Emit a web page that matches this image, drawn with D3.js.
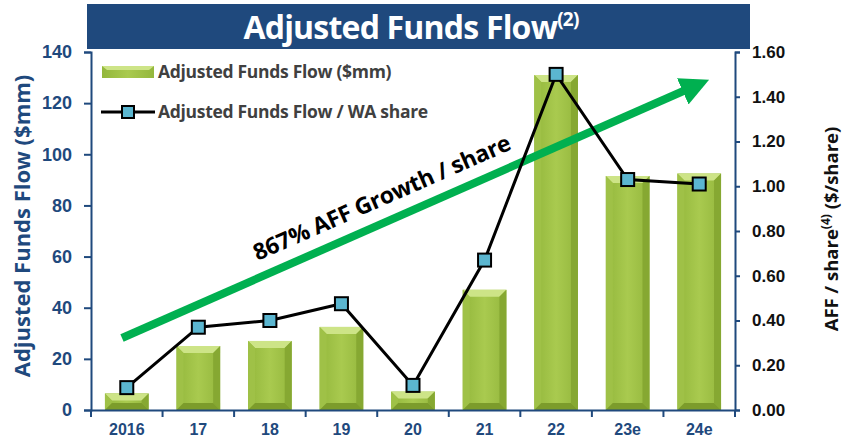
<!DOCTYPE html>
<html lang="en">
<head>
<meta charset="utf-8" />
<title>Adjusted Funds Flow</title>
<script src="https://cdn.jsdelivr.net/npm/d3@7"></script>
<style>
body{ margin:0; background:#fff; }
svg{ font-family:"Open Sans","Noto Sans",sans-serif; font-weight:bold; }
</style>
</head>
<body>
<svg id="chart" width="844" height="441"></svg>
<script>
// chart data
const years = ['2016','17','18','19','20','21','22','23e','24e'];
const aff = [6.5, 25, 27, 32.5, 7.2, 47, 131, 91.5, 92.5];        // $mm
const affPerShare = [0.10, 0.37, 0.40, 0.475, 0.11, 0.67, 1.50, 1.03, 1.01];
const leftTicks = [0, 20, 40, 60, 80, 100, 120, 140];
const rightTicks = [0, 0.2, 0.4, 0.6, 0.8, 1.0, 1.2, 1.4, 1.6];

const navy = '#1F497D';
const svg = d3.select('#chart');
const plotLeft = 91, plotRight = 735, plotTop = 52, plotBottom = 410;

const x = d3.scaleBand().domain(years).range([plotLeft, plotRight]).paddingInner(0.39).paddingOuter(0.195);
const yL = d3.scaleLinear().domain([0, 140]).range([plotBottom, plotTop]);
const yR = d3.scaleLinear().domain([0, 1.6]).range([plotBottom, plotTop]);

const defs = svg.append('defs');
const grad = defs.append('linearGradient').attr('id', 'barGrad');
grad.append('stop').attr('offset', '0%').attr('stop-color', '#93b73c');
grad.append('stop').attr('offset', '50%').attr('stop-color', '#a9ca4f');
grad.append('stop').attr('offset', '100%').attr('stop-color', '#94b73d');

// title banner
svg.append('rect').attr('x', 87).attr('y', 4).attr('width', 663).attr('height', 45).attr('fill', navy);
const title = svg.append('text').attr('x', 411).attr('y', 39).attr('text-anchor', 'middle')
    .attr('fill', '#fff').attr('font-size', 32).style('letter-spacing', '-0.8px');
title.append('tspan').text('Adjusted Funds Flow');
title.append('tspan').attr('font-size', 19).attr('dy', -13).text('(2)');

// bars with bevelled edges
function bevel(x0, y0, w, h, b) {
  const x1 = x0 + w, y1 = y0 + h;
  return {
    top: `M${x0},${y0}L${x1},${y0}L${x1 - b},${y0 + b}L${x0 + b},${y0 + b}Z`,
    left: `M${x0},${y0}L${x0 + b},${y0 + b}L${x0 + b},${y1 - b}L${x0},${y1}Z`,
    right: `M${x1},${y0}L${x1 - b},${y0 + b}L${x1 - b},${y1 - b}L${x1},${y1}Z`,
    bottom: `M${x0},${y1}L${x0 + b},${y1 - b}L${x1 - b},${y1 - b}L${x1},${y1}Z`
  };
}
const faces = [['top', '#cde487'], ['left', '#9fc147'], ['right', '#86a832'], ['bottom', '#7c9c2b']];
const bars = svg.append('g').selectAll('g').data(years).enter().append('g');
bars.append('rect')
    .attr('x', d => x(d)).attr('y', (d, i) => yL(aff[i]))
    .attr('width', x.bandwidth()).attr('height', (d, i) => yL(0) - yL(aff[i]))
    .attr('fill', 'url(#barGrad)');
faces.forEach(([face, col]) => {
  bars.append('path')
      .attr('d', (d, i) => {
        const h = yL(0) - yL(aff[i]);
        return bevel(x(d), yL(aff[i]), x.bandwidth(), h, Math.min(7, h / 2))[face];
      })
      .attr('fill', col);
});

// axes
const axL = svg.append('g').attr('transform', `translate(${plotLeft},0)`)
    .call(d3.axisLeft(yL).tickValues(leftTicks).tickSize(7));
axL.selectAll('text').attr('fill', navy).attr('font-size', 18).attr('x', -19);
const axR = svg.append('g').attr('transform', `translate(${plotRight},0)`)
    .call(d3.axisRight(yR).tickValues(rightTicks).tickFormat(d3.format('.2f')).tickSize(5));
axR.selectAll('text').attr('fill', '#111').attr('font-size', 17).attr('x', 17);
const axB = svg.append('g').attr('transform', `translate(0,${plotBottom})`)
    .call(d3.axisBottom(x).tickSize(0));
axB.selectAll('text').attr('fill', navy).attr('font-size', 16).attr('dy', '1.4em');
[axL, axR, axB].forEach(a => {
  a.select('.domain').attr('stroke', navy).attr('stroke-width', 2);
  a.selectAll('line').attr('stroke', navy).attr('stroke-width', 2);
});
axB.selectAll('.tick line').remove();
svg.append('g').selectAll('line').data(d3.range(years.length + 1)).enter().append('line')
    .attr('x1', i => plotLeft + i * x.step()).attr('x2', i => plotLeft + i * x.step())
    .attr('y1', plotBottom).attr('y2', plotBottom + 7)
    .attr('stroke', navy).attr('stroke-width', 2);

// axis titles
svg.append('text').attr('transform', 'translate(30,226) rotate(-90)').attr('text-anchor', 'middle')
    .attr('fill', navy).attr('font-size', 22).text('Adjusted Funds Flow ($mm)');
const rt = svg.append('text').attr('transform', 'translate(838,229) rotate(-90)').attr('text-anchor', 'middle')
    .attr('fill', '#111').attr('font-size', 18.5);
rt.append('tspan').text('AFF / share');
rt.append('tspan').attr('font-size', 12).attr('dy', -8).text('(4)');
rt.append('tspan').attr('dy', 8).text(' ($/share)');

// growth arrow
defs.append('marker').attr('id', 'head').attr('viewBox', '0 0 10 10').attr('refX', 2).attr('refY', 5)
    .attr('markerWidth', 3.6).attr('markerHeight', 3.6).attr('orient', 'auto')
  .append('path').attr('d', 'M0,0L10,5L0,10Z').attr('fill', '#00b050');
svg.append('line').attr('x1', 122).attr('y1', 338).attr('x2', 688).attr('y2', 89)
    .attr('stroke', '#00b050').attr('stroke-width', 8).attr('marker-end', 'url(#head)');
const ang = Math.atan2(89 - 338, 688 - 122) * 180 / Math.PI;
svg.append('text').attr('transform', `translate(385,205) rotate(${ang})`).attr('text-anchor', 'middle')
    .attr('fill', '#000').attr('font-size', 23).style('letter-spacing', '-0.3px').text('867% AFF Growth / share');

// line series
const line = d3.line().x(d => x(d[0]) + x.bandwidth() / 2).y(d => yR(d[1]));
const pts = years.map((d, i) => [d, affPerShare[i]]);
svg.append('path').datum(pts).attr('d', line).attr('fill', 'none').attr('stroke', '#000').attr('stroke-width', 3);
svg.append('g').selectAll('rect').data(pts).enter().append('rect')
    .attr('x', d => x(d[0]) + x.bandwidth() / 2 - 6.5).attr('y', d => yR(d[1]) - 6.5)
    .attr('width', 13).attr('height', 13)
    .attr('fill', '#5bb6d0').attr('stroke', '#000').attr('stroke-width', 2);

// legend
const lg = svg.append('g');
lg.append('rect').attr('x', 102).attr('y', 66).attr('width', 52).attr('height', 12).attr('fill', 'url(#barGrad)');
lg.append('path').attr('d', 'M102,66L154,66L149,70L107,70Z').attr('fill', '#cde487');
lg.append('text').attr('x', 158).attr('y', 78).attr('fill', '#404040').attr('font-size', 17.5).style('letter-spacing', '-0.3px').text('Adjusted Funds Flow ($mm)');
lg.append('line').attr('x1', 101).attr('x2', 155).attr('y1', 112).attr('y2', 112).attr('stroke', '#000').attr('stroke-width', 3);
lg.append('rect').attr('x', 122).attr('y', 106).attr('width', 12).attr('height', 12)
    .attr('fill', '#5bb6d0').attr('stroke', '#000').attr('stroke-width', 2);
lg.append('text').attr('x', 158).attr('y', 118).attr('fill', '#404040').attr('font-size', 17.5).style('letter-spacing', '-0.3px').text('Adjusted Funds Flow / WA share');
</script>
</body>
</html>
